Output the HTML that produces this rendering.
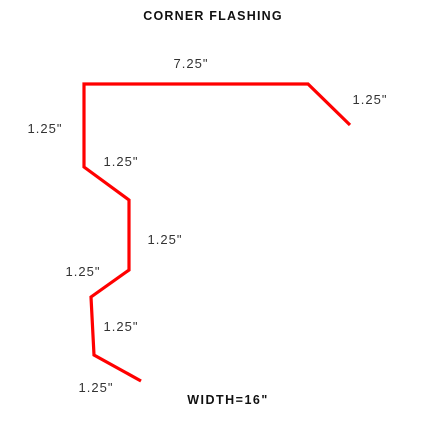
<!DOCTYPE html>
<html><head><meta charset="utf-8"><style>
html,body{margin:0;padding:0;background:#fff;width:426px;height:441px;overflow:hidden}
svg text{font-family:"Liberation Sans",sans-serif;fill:#333}
</style></head><body>
<svg id="s" width="426" height="441" viewBox="0 0 426 441" xmlns="http://www.w3.org/2000/svg">
<rect width="426" height="441" fill="#fff"/>
<text x="213" y="20" text-anchor="middle" font-size="12.5" font-weight="bold" letter-spacing="1.2" style="fill:#111">CORNER FLASHING</text>
<text x="228" y="404" text-anchor="middle" font-size="12.5" font-weight="bold" letter-spacing="1.5" style="fill:#111">WIDTH=16"</text>
</svg>
<script>
const pointsX = [350, 308, 84, 84, 129, 129, 91, 94, 141];
const pointsY = [125, 84, 84, 167, 200, 270, 297, 355, 381];
const labelText = ['7.25"', '1.25"', '1.25"', '1.25"', '1.25"', '1.25"', '1.25"', '1.25"'];
const labelX = [191, 370, 45, 121, 165, 83, 121, 96];
const labelY = [68, 104, 133, 166, 244, 276, 331, 392];

const svg = document.getElementById('s');
const NS = 'http://www.w3.org/2000/svg';
const pl = document.createElementNS(NS, 'polyline');


pl.setAttribute('points', pointsX.map((x, i) => x + ',' + pointsY[i]).join(' '));
pl.setAttribute('fill', 'none');
pl.setAttribute('stroke', '#ff0000');
pl.setAttribute('stroke-width', '3.2');
pl.setAttribute('stroke-linejoin', 'miter');
svg.appendChild(pl);
labelText.forEach((t, i) => {
  const tx = document.createElementNS(NS, 'text');
  
  
  tx.setAttribute('x', labelX[i]);
  tx.setAttribute('y', labelY[i]);
  tx.setAttribute('text-anchor', 'middle');
  tx.setAttribute('font-size', '13');
  tx.setAttribute('letter-spacing', '1');
  tx.textContent = t;
  svg.appendChild(tx);
});
</script>
</body></html>
